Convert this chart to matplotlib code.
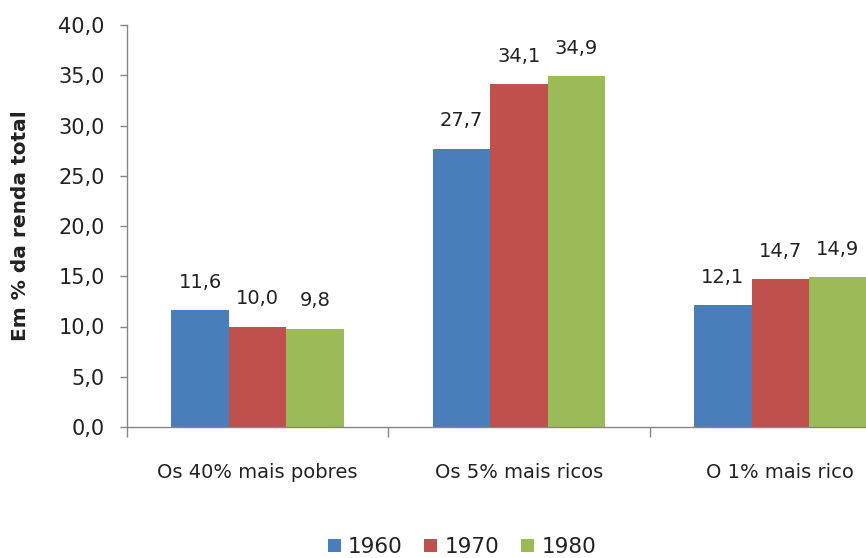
import matplotlib
matplotlib.use("Agg")
import matplotlib.pyplot as plt
import numpy as np
from matplotlib.ticker import FuncFormatter

plt.rcParams["font.family"] = ["DejaVu Sans"]

categories = ["Os 40% mais pobres", "Os 5% mais ricos", "O 1% mais rico"]
years = ["1960", "1970", "1980"]
values_1960 = [11.6, 27.7, 12.1]
values_1970 = [10.0, 34.1, 14.7]
values_1980 = [9.8, 34.9, 14.9]
series = [values_1960, values_1970, values_1980]
colors = ["#4A7EBB", "#C0504D", "#9BBB59"]

AXIS_C = "#868686"
TXT = "#222222"

fig = plt.figure(figsize=(8.66, 5.58), dpi=100)
# axes runs past the right edge, as in the cropped original
ax = fig.add_axes([127 / 866, 1 - 427 / 558, 784 / 866, 402 / 558])

x = np.arange(len(categories))
w = 0.22
for i, (vals, col, yr) in enumerate(zip(series, colors, years)):
    pos = x + (i - 1) * w
    ax.bar(pos, vals, width=w, color=col, label=yr, zorder=2)
    for xp, v in zip(pos, vals):
        ax.text(xp, v + 2.8, f"{v:.1f}".replace(".", ","), ha="center",
                va="center", fontsize=14, color=TXT)

ax.set_xlim(-0.5, 2.5)
ax.set_ylim(0, 40)
ax.set_yticks(np.arange(0, 41, 5))
ax.yaxis.set_major_formatter(FuncFormatter(lambda v, _: f"{v:.1f}".replace(".", ",")))
ax.set_xticks([-0.5, 0.5, 1.5, 2.5])
ax.set_xticklabels([])
ax.set_xticks(x, minor=True)
ax.set_xticklabels(categories, minor=True)
ax.tick_params(axis="x", which="minor", length=0, pad=26, labelsize=14,
               labelcolor=TXT)
ax.tick_params(axis="x", which="major", length=7, color=AXIS_C, width=1)
ax.tick_params(axis="y", length=5, color=AXIS_C, width=1, labelsize=15,
               labelcolor=TXT, pad=11)

for s in ["top", "right"]:
    ax.spines[s].set_visible(False)
for s in ["left", "bottom"]:
    ax.spines[s].set_color(AXIS_C)
    ax.spines[s].set_linewidth(1)

ax.set_ylabel("Em % da renda total", fontsize=14.5, fontweight="bold",
              color=TXT)
ax.yaxis.set_label_coords(-97 / 784, 0.5)

fig.legend(loc="center", bbox_to_anchor=(462 / 866, 1 - 547 / 558), ncol=3,
           frameon=False, fontsize=15.5, handlelength=0.6, handleheight=0.6,
           handletextpad=0.35, columnspacing=1.0, labelcolor=TXT)

fig.savefig("out.png", dpi=100)
